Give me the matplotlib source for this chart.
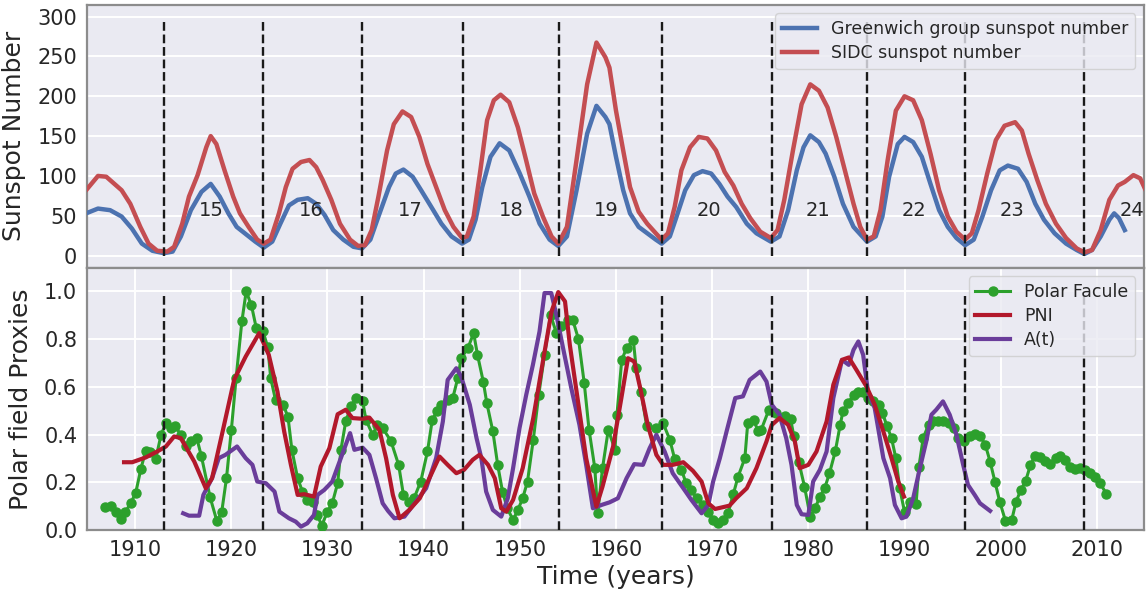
import matplotlib
matplotlib.use("Agg")
import matplotlib.pyplot as plt

# ---------------- data ----------------
sidc_years = [1904.9, 1906.14, 1907.0, 1908.6, 1909.5, 1910.54, 1911.4, 1912.3, 1913.35, 1914.06,
              1914.9, 1915.6, 1916.5, 1917.4, 1917.86, 1918.45, 1919.3, 1920.2, 1920.9, 1921.8,
              1922.7, 1923.38, 1924.08, 1924.96, 1925.67, 1926.37, 1927.25, 1928.13, 1928.83, 1929.5,
              1930.4, 1931.3, 1932.35, 1933.2, 1933.9, 1934.6, 1935.3, 1936.2, 1936.9, 1937.8,
              1938.7, 1939.56, 1940.4, 1941.3, 1942.2, 1943.1, 1944.0, 1944.5, 1945.2, 1945.9,
              1946.6, 1947.3, 1948.0, 1948.9, 1949.8, 1950.65, 1951.5, 1952.4, 1953.3, 1954.0,
              1954.9, 1955.9, 1957.0, 1957.97, 1958.9,
              1959.32, 1960.0, 1960.75, 1961.46, 1962.36, 1963.25, 1964.14, 1964.75, 1965.4, 1966.1,
              1966.8, 1967.7, 1968.6, 1969.5, 1970.4, 1971.3, 1972.2, 1973.07, 1973.96, 1975.0,
              1976.1, 1976.8, 1977.5, 1978.4, 1979.3, 1980.2, 1981.1, 1982.0, 1982.9, 1983.8,
              1984.7, 1985.4, 1986.1, 1986.8, 1987.5, 1988.25, 1989.1, 1990.0, 1990.9, 1991.8,
              1992.7, 1993.6, 1994.5, 1995.4, 1996.3, 1997.0, 1997.7, 1998.6, 1999.5, 2000.4,
              2001.5, 2002.2, 2002.9, 2003.8, 2004.7, 2005.75, 2006.8, 2007.9, 2008.7, 2009.5,
              2010.4, 2011.3, 2012.2, 2012.9, 2013.8, 2014.5, 2015.0]
sidc_values = [82, 100, 99, 82, 65, 36, 15, 6, 5, 11,
               40, 74, 101, 136, 150, 140, 107, 74, 53, 36,
               20, 15, 20, 53, 86, 109, 117.5, 120, 111, 95,
               70, 40, 20, 12, 13, 32, 74, 132, 165, 181,
               174, 149, 115, 86, 57, 36, 22, 24, 49, 107,
               170, 195, 202, 192.5, 161, 120, 78, 49, 24, 15,
               36, 120, 215, 267.5, 249,
               236, 182, 132, 86, 55, 40, 28, 20, 28, 61,
               107, 136, 149, 147, 132, 105, 88, 65, 47, 30,
               22, 32, 70, 132, 190, 215, 207, 186, 149, 107,
               65, 36, 20, 24, 57, 120, 182, 200, 195, 170,
               128, 82, 49, 30, 20, 28, 57, 103, 145, 163,
               167.5, 157, 128, 95, 65, 40, 22, 9, 4, 7,
               32, 70, 88, 92.5, 101, 97, 84]

group_years = [1904.9, 1906.14, 1907.4, 1908.6, 1909.66, 1910.7, 1911.8, 1913.0, 1913.9, 1914.76,
               1915.8, 1916.9, 1917.86, 1918.8, 1919.7, 1920.56, 1921.4, 1922.5, 1923.38, 1924.26,
               1925.1, 1926.0, 1926.9, 1927.95, 1928.83, 1929.7, 1930.6, 1931.65, 1932.7, 1933.6,
               1934.46, 1935.3, 1936.4, 1937.1, 1937.9, 1938.86, 1939.74, 1940.8, 1941.85, 1942.9,
               1944.0, 1944.7, 1945.4, 1946.1, 1946.95, 1947.9, 1948.9, 1950.0, 1951.0, 1952.06,
               1953.1, 1954.0, 1954.9, 1955.9, 1957.0, 1957.97, 1958.9,
               1959.32, 1960.0, 1960.75, 1961.46, 1962.36, 1963.25, 1964.14, 1964.75, 1965.6, 1966.3,
               1967.2, 1968.1, 1969.0, 1969.9, 1970.75, 1971.6, 1972.5, 1973.6, 1974.6, 1976.1,
               1977.0, 1977.9, 1978.8, 1979.5, 1980.2, 1981.1, 1981.8, 1982.7, 1983.6, 1984.7,
               1986.1, 1987.0, 1987.7, 1988.4, 1989.3, 1990.0, 1990.9, 1991.8, 1992.7, 1993.6,
               1994.5, 1995.4, 1996.3, 1997.2, 1998.1, 1999.0, 1999.9, 2000.75, 2001.8, 2002.7,
               2003.6, 2004.5, 2005.6, 2006.8, 2007.9, 2008.7, 2009.5, 2010.4, 2011.3, 2011.8,
               2012.3, 2012.9]
group_values = [53, 59, 57, 49, 34, 15, 6, 3, 5, 24,
                57, 80, 90, 74, 53, 36, 28, 17.5, 10, 17.5,
                40, 63, 70, 72, 65, 51, 32, 20, 11, 9,
                20, 49, 86, 103, 108, 99, 82, 61, 40, 24,
                15, 20, 45, 86, 124, 141, 132, 103, 74, 40,
                20, 12, 24, 82, 153, 188, 174,
                165, 124, 82, 53, 36, 28, 20, 15, 24, 49,
                82, 101, 106, 103, 90, 74, 61, 40, 28, 17.5,
                24, 57, 107, 136, 151, 142.5, 128, 99, 65, 36,
                17.5, 24, 49, 99, 140, 149, 142.5, 124, 90, 57,
                36, 22, 13, 20, 49, 82, 107, 113, 109, 92.5,
                65, 45, 28, 15, 7, 2, 7, 24, 45, 53,
                47, 32]

cycle_minima = [1913.0, 1923.3, 1933.6, 1944.05, 1954.06, 1964.75, 1976.2, 1986.1, 1996.3, 2008.7]
cycle_labels = ["15", "16", "17", "18", "19", "20", "21", "22", "23", "24"]
cycle_label_years = [1917.95, 1928.3, 1938.6, 1949.07, 1959.0, 1969.7, 1981.0, 1990.95, 2001.2, 2013.7]

facule_years = [1906.9, 1907.5, 1908.0, 1908.5, 1909.0, 1909.55, 1910.07, 1910.6, 1911.1, 1911.6,
                1912.15, 1912.7, 1913.2, 1913.7, 1914.2, 1914.75, 1915.3, 1915.8, 1916.4, 1916.9,
                1917.8, 1918.5, 1919.0, 1919.5, 1920.0, 1920.5, 1921.1, 1921.55, 1922.1, 1922.6,
                1923.3, 1923.8, 1924.1, 1924.6, 1925.4, 1925.9, 1926.3, 1926.9, 1927.4, 1927.9,
                1928.45, 1928.96, 1929.4, 1930.0, 1930.5, 1931.06, 1931.4, 1931.9, 1932.45, 1933.0,
                1933.66, 1934.0, 1934.7, 1935.2, 1935.74, 1936.6, 1937.4, 1937.9, 1938.5, 1939.0,
                1939.7, 1940.4, 1940.9, 1941.4, 1941.8, 1942.5, 1943.03, 1943.55, 1943.9, 1944.6,
                1945.2, 1945.6, 1946.2, 1946.57, 1947.2, 1947.7, 1948.2, 1948.7, 1949.3, 1949.8,
                1950.3, 1950.8, 1951.4, 1951.97, 1952.57, 1953.2, 1953.8, 1954.3, 1955.0, 1955.5,
                1956.1, 1956.7, 1957.2, 1957.8, 1958.1, 1958.6, 1959.2, 1959.9, 1960.1, 1960.6,
                1961.1, 1961.8, 1962.1, 1962.6, 1963.2, 1964.2, 1964.9, 1965.6, 1966.1, 1966.8,
                1967.3, 1967.8, 1968.4, 1969.0, 1969.6, 1970.1, 1970.6, 1971.1, 1971.65, 1972.2,
                1972.7, 1973.4, 1973.7, 1974.3, 1974.8, 1975.1, 1975.9, 1976.6, 1977.55, 1978.15,
                1978.5, 1979.0, 1979.6, 1980.2, 1980.7, 1981.2, 1981.7, 1982.2, 1982.8, 1983.3,
                1983.6, 1984.15, 1984.7, 1985.2, 1985.7, 1986.2, 1986.75, 1987.3, 1987.7, 1988.2,
                1988.65, 1989.1, 1989.5, 1990.0, 1990.6, 1991.2, 1991.5, 1991.95, 1992.5, 1993.0,
                1993.5, 1994.0, 1994.6, 1995.1, 1995.6, 1996.2, 1996.8, 1997.3, 1997.9, 1998.4,
                1998.9, 1999.4, 1999.9, 2000.5, 2001.15, 2001.6, 2002.1, 2002.6, 2003.1, 2003.6,
                2004.1, 2004.6, 2005.1, 2005.7, 2006.2, 2006.7, 2007.2, 2007.7, 2008.2, 2008.8,
                2009.3, 2009.8, 2010.35, 2011.0]
facule_values = [0.098, 0.102, 0.077, 0.046, 0.077, 0.112, 0.157, 0.256, 0.332, 0.326,
                 0.298, 0.399, 0.448, 0.427, 0.434, 0.399, 0.35, 0.371, 0.387, 0.308,
                 0.137, 0.038, 0.074, 0.217, 0.417, 0.636, 0.874, 1.0, 0.941, 0.846,
                 0.832, 0.765, 0.636, 0.545, 0.525, 0.473, 0.336, 0.217, 0.161, 0.126,
                 0.116, 0.063, 0.018, 0.077, 0.112, 0.196, 0.336, 0.455, 0.518, 0.553,
                 0.539, 0.462, 0.399, 0.441, 0.427, 0.373, 0.273, 0.147, 0.119, 0.133,
                 0.203, 0.329, 0.462, 0.497, 0.525, 0.546, 0.553, 0.636, 0.72, 0.762,
                 0.825, 0.734, 0.622, 0.532, 0.413, 0.273, 0.161, 0.091, 0.042, 0.084,
                 0.133, 0.203, 0.378, 0.567, 0.734, 0.902, 0.825, 0.853, 0.881, 0.881,
                 0.8, 0.615, 0.42, 0.259, 0.07, 0.259, 0.42, 0.336, 0.483, 0.713,
                 0.762, 0.797, 0.678, 0.58, 0.434, 0.427, 0.448, 0.378, 0.298, 0.252,
                 0.196, 0.168, 0.133, 0.105, 0.077, 0.042, 0.028, 0.042, 0.07, 0.15,
                 0.224, 0.301, 0.448, 0.462, 0.413, 0.42, 0.504, 0.49, 0.476, 0.466,
                 0.392, 0.287, 0.182, 0.056, 0.091, 0.14, 0.175, 0.238, 0.329, 0.438,
                 0.497, 0.532, 0.567, 0.58, 0.58, 0.553, 0.539, 0.525, 0.49, 0.434,
                 0.385, 0.301, 0.175, 0.077, 0.119, 0.108, 0.266, 0.387, 0.44, 0.455,
                 0.457, 0.457, 0.448, 0.427, 0.385, 0.371, 0.396, 0.401, 0.392, 0.357,
                 0.287, 0.203, 0.119, 0.038, 0.042, 0.119, 0.168, 0.206, 0.273, 0.312,
                 0.304, 0.29, 0.276, 0.301, 0.312, 0.294, 0.266, 0.256, 0.259, 0.252,
                 0.238, 0.224, 0.196, 0.15]

pni_years = [1908.85, 1909.7, 1911.1, 1912.3, 1913.2, 1914.06, 1914.75, 1916.15, 1917.35, 1918.0,
             1919.1, 1920.3, 1921.5, 1922.9, 1923.9, 1924.8, 1925.5, 1926.2, 1926.9, 1927.6,
             1928.6, 1929.3, 1930.2, 1931.06, 1931.9, 1932.6, 1933.66, 1934.36, 1935.4, 1936.1,
             1936.8, 1937.5, 1938.5, 1939.6, 1940.6, 1941.65, 1942.5, 1943.4, 1944.2, 1945.1,
             1945.8, 1946.7, 1947.4, 1948.07, 1948.6, 1949.3, 1950.3, 1951.4, 1952.4, 1953.3,
             1954.0, 1954.7, 1955.2, 1956.1, 1956.9, 1957.96, 1958.6, 1959.7, 1960.56, 1961.25,
             1961.9, 1962.6, 1963.3, 1964.2, 1964.9, 1965.9, 1967.0, 1968.0, 1968.9, 1969.6,
             1970.3, 1971.8, 1972.5, 1973.6, 1974.6, 1975.65, 1976.2, 1977.0, 1977.9, 1978.6,
             1979.1, 1980.0, 1980.85, 1981.9, 1982.6, 1983.5, 1984.2, 1985.0, 1986.05, 1986.9,
             1987.8, 1988.65, 1989.35, 1989.95]
pni_values = [0.284, 0.284, 0.304, 0.329, 0.35, 0.392, 0.385, 0.287, 0.175, 0.217,
              0.413, 0.63, 0.727, 0.825, 0.734, 0.58, 0.413, 0.273, 0.147, 0.15,
              0.14, 0.266, 0.343, 0.485, 0.504, 0.469, 0.466, 0.471, 0.42, 0.3,
              0.147, 0.049, 0.084, 0.133, 0.217, 0.308, 0.273, 0.238, 0.252, 0.294,
              0.315, 0.273, 0.217, 0.091, 0.077, 0.126, 0.259, 0.469, 0.706, 0.916,
              0.997, 0.958, 0.776, 0.525, 0.301, 0.098, 0.182, 0.35, 0.553, 0.72,
              0.706, 0.58, 0.441, 0.315, 0.273, 0.273, 0.284, 0.248, 0.203, 0.112,
              0.088, 0.102, 0.133, 0.175, 0.259, 0.371, 0.44, 0.469, 0.441, 0.371,
              0.259, 0.273, 0.329, 0.455, 0.609, 0.713, 0.723, 0.671, 0.601, 0.525,
              0.413, 0.301, 0.203, 0.14]

at_years = [1915.0, 1915.6, 1916.66, 1917.1, 1918.0, 1918.7, 1919.4, 1920.6, 1921.5, 1922.2,
            1922.7, 1923.6, 1924.5, 1925.0, 1926.0, 1926.7, 1927.25, 1927.9, 1928.6, 1928.97,
            1929.67, 1930.5, 1931.2, 1931.9, 1932.35, 1932.8, 1933.66, 1934.36, 1935.05, 1935.74,
            1936.3, 1936.96, 1938.0, 1939.2, 1940.26, 1941.3, 1942.0, 1942.5, 1943.4, 1943.9,
            1944.8, 1945.5, 1946.0, 1946.5, 1947.2, 1948.07, 1948.75, 1949.3, 1949.97, 1950.67,
            1951.36, 1952.05, 1952.57, 1953.27, 1953.8, 1954.5, 1955.35, 1956.2, 1956.9, 1957.6,
            1958.5, 1959.34, 1960.2, 1961.1, 1961.9, 1962.8, 1963.5, 1964.2, 1965.06, 1965.9,
            1967.0, 1967.84, 1968.9, 1969.6, 1970.1, 1970.8, 1971.5, 1972.4, 1973.2, 1973.9,
            1975.0, 1975.65, 1976.2, 1977.0, 1977.7, 1978.25, 1978.8, 1979.3, 1980.0, 1980.5,
            1981.2, 1981.9, 1982.6, 1983.5, 1984.2, 1984.7, 1985.2, 1985.7, 1986.2, 1986.9,
            1987.8, 1988.5, 1989.0, 1989.7, 1990.2, 1990.9, 1991.6, 1992.3, 1992.8, 1993.3,
            1994.0, 1994.7, 1995.4, 1996.1, 1996.6, 1997.3, 1997.85, 1998.9]
at_values = [0.07, 0.06, 0.06, 0.147, 0.217, 0.301, 0.315, 0.35, 0.301, 0.273,
             0.203, 0.196, 0.161, 0.077, 0.049, 0.035, 0.014, 0.028, 0.063, 0.147,
             0.168, 0.203, 0.28, 0.357, 0.406, 0.336, 0.345, 0.315, 0.217, 0.112,
             0.08, 0.049, 0.056, 0.119, 0.175, 0.301, 0.455, 0.629, 0.678, 0.643,
             0.525, 0.385, 0.301, 0.161, 0.084, 0.056, 0.133, 0.259, 0.427, 0.567,
             0.692, 0.832, 0.993, 0.993, 0.902, 0.762, 0.595, 0.441, 0.273, 0.091,
             0.105, 0.116, 0.133, 0.217, 0.276, 0.273, 0.343, 0.399, 0.329, 0.238,
             0.175, 0.126, 0.07, 0.105, 0.203, 0.301, 0.413, 0.553, 0.56, 0.629,
             0.664, 0.622, 0.525, 0.483, 0.385, 0.273, 0.105, 0.066, 0.063, 0.203,
             0.252, 0.329, 0.553, 0.713, 0.692, 0.755, 0.79, 0.734, 0.58, 0.511,
             0.301, 0.217, 0.105, 0.049, 0.056, 0.133, 0.259, 0.378, 0.483, 0.504,
             0.539, 0.483, 0.399, 0.273, 0.189, 0.147, 0.112, 0.08]

x_ticks = [1910, 1920, 1930, 1940, 1950, 1960, 1970, 1980, 1990, 2000, 2010]
top_yticks = [0, 50, 100, 150, 200, 250, 300]
bottom_yticks = [0.0, 0.2, 0.4, 0.6, 0.8, 1.0]

# ---------------- style ----------------
BG = "#EAEAF2"
SPINE = "#8c8c8c"
TXT = "#262626"
plt.rcParams.update({
    "font.family": ["DejaVu Sans"],
    "text.color": TXT,
    "axes.labelcolor": TXT,
    "xtick.color": TXT,
    "ytick.color": TXT,
})

fig = plt.figure(figsize=(11.48, 5.90), dpi=100)
L, R = 0.0758, 0.9965
TOP, MID, BOT = 0.992, 0.5466, 0.1017
ax1 = fig.add_axes([L, MID, R - L, TOP - MID])
ax2 = fig.add_axes([L, BOT, R - L, MID - BOT], sharex=ax1)

for ax in (ax1, ax2):
    ax.set_facecolor(BG)
    for s in ax.spines.values():
        s.set_color(SPINE)
        s.set_linewidth(1.6)
    ax.tick_params(length=0, labelsize=15, pad=7)
    ax.set_axisbelow(True)

# Top panel
ax1.grid(True, axis="y", color="white", linewidth=1.4)
ax1.plot(group_years, group_values, color="#4C72B0", lw=3.2, label="Greenwich group sunspot number",
         zorder=3, solid_joinstyle="round")
ax1.plot(sidc_years, sidc_values, color="#C44E52", lw=3.2, label="SIDC sunspot number",
         zorder=3, solid_joinstyle="round")
ax1.vlines(cycle_minima, 0, 295, colors="#1a1a1a", linestyles="--", lw=1.7, zorder=4)
for lab, yr in zip(cycle_labels, cycle_label_years):
    ax1.text(yr, 56, lab, ha="center", va="center", fontsize=14, color=TXT, clip_on=False)
ax1.set_ylim(-15, 315)
ax1.set_yticks(top_yticks)
ax1.set_ylabel("Sunspot Number", fontsize=18, labelpad=8)
ax1.tick_params(axis="x", labelbottom=False)
ax1.legend(loc="upper right", fontsize=12.5, frameon=True, framealpha=0.8,
           facecolor=BG, edgecolor="#cccccc", borderaxespad=0.5,
           handlelength=2.0, borderpad=0.4, labelspacing=0.35)

# Bottom panel
ax2.grid(True, color="white", linewidth=1.4)
ax2.plot(facule_years, facule_values, color="#2ca02c", lw=2.2, marker="o", ms=6.5,
         label="Polar Facule", zorder=3)
ax2.plot(pni_years, pni_values, color="#B2182B", lw=3.0, label="PNI", zorder=4,
         solid_joinstyle="round")
ax2.plot(at_years, at_values, color="#6A3D9A", lw=3.0, label="A(t)", zorder=3,
         solid_joinstyle="round")
ax2.vlines(cycle_minima, 0, 0.985, colors="#1a1a1a", linestyles="--", lw=1.7, zorder=5)
ax2.set_ylim(0, 1.1)
ax2.set_yticks(bottom_yticks)
ax2.set_xlim(1905, 2014.9)
ax2.set_xticks(x_ticks)
ax2.set_ylabel("Polar field Proxies", fontsize=18, labelpad=8)
ax2.set_xlabel("Time (years)", fontsize=18, labelpad=4)
ax2.legend(loc="upper right", fontsize=12.5, frameon=True, framealpha=0.8,
           facecolor=BG, edgecolor="#cccccc", borderaxespad=0.5,
           handlelength=2.0, borderpad=0.4, labelspacing=0.35)

fig.savefig("out.png", dpi=100)
